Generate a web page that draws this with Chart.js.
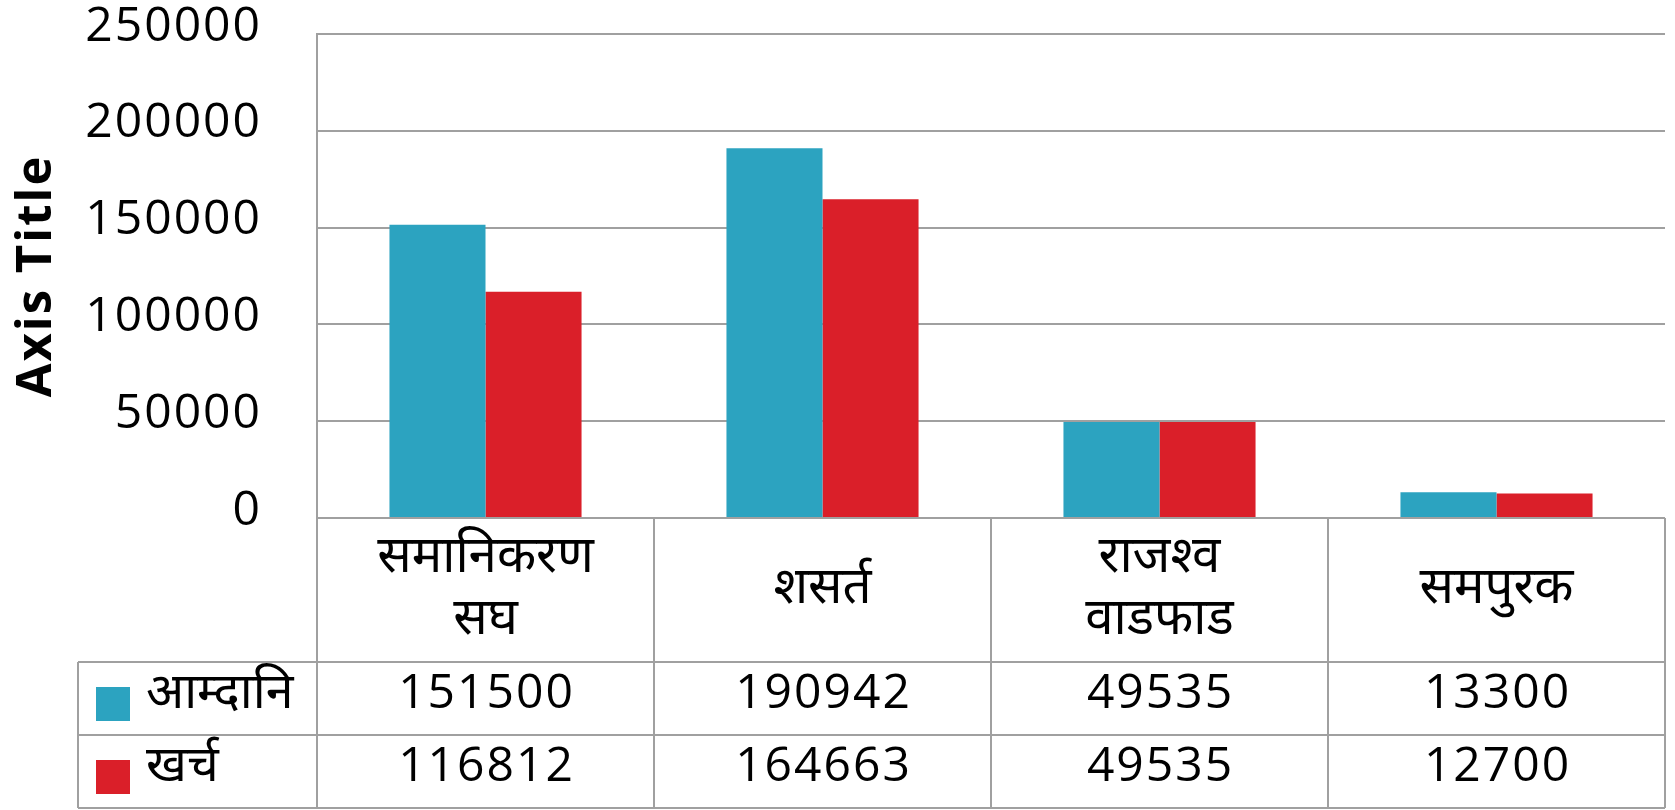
<!DOCTYPE html>
<html>
<head>
<meta charset="utf-8">
<script src="https://cdn.jsdelivr.net/npm/chart.js@4/dist/chart.umd.min.js"></script>
<style>
html,body{margin:0;padding:0;background:#fff;}
#wrap{width:1675px;height:810px;}
</style>
</head>
<body>
<div id="wrap"><canvas id="c" width="1675" height="810"></canvas></div>
<script>
const categories = [['समानिकरण','सघ'], ['शसर्त'], ['राजश्व','वाडफाड'], ['समपुरक']];
const seriesNames = ['आम्दानि', 'खर्च'];
const incomeValues = [151500, 190942, 49535, 13300];
const expenseValues = [116812, 164663, 49535, 12700];
const yMin = 0, yMax = 250000, yStep = 50000;
const axisTitle = 'Axis Title';
const seriesColors = ['#2CA3C0', '#DA1F29'];

const FONT = "'Open Sans', 'Noto Sans', 'Noto Sans Devanagari', 'Lohit Devanagari', sans-serif";
const GRID = '#A0A0A0';

const spacingPlugin = {
  id: 'spacing',
  beforeDraw(chart) { chart.ctx.letterSpacing = '2px'; },
  afterDatasetsDraw(chart) { chart.ctx.letterSpacing = '0px'; }
};

const tablePlugin = {
  id: 'dataTable',
  afterDraw(chart) {
    const ctx = chart.ctx;
    const x = chart.scales.x;
    const area = chart.chartArea;
    const n = categories.length;
    const colW = (area.right - area.left) / n;
    const top = area.bottom;
    const r1 = 662, r2 = 735, r3 = 808;
    const tableLeft = 78;
    ctx.save();
    ctx.strokeStyle = GRID;
    ctx.lineWidth = 2;
    ctx.beginPath();
    ctx.moveTo(area.left, top); ctx.lineTo(area.right, top);
    ctx.moveTo(tableLeft, r1); ctx.lineTo(area.right, r1);
    ctx.moveTo(tableLeft, r2); ctx.lineTo(area.right, r2);
    ctx.moveTo(tableLeft, r3); ctx.lineTo(area.right, r3);
    for (let i = 0; i <= n; i++) {
      const xx = area.left + i * colW;
      ctx.moveTo(xx, top); ctx.lineTo(xx, r3);
    }
    ctx.moveTo(tableLeft, r1); ctx.lineTo(tableLeft, r3);
    ctx.stroke();

    ctx.fillStyle = '#000';
    ctx.textAlign = 'center';
    ctx.textBaseline = 'middle';
    ctx.letterSpacing = '0px';
    ctx.font = '51px ' + FONT;
    categories.forEach((lab, i) => {
      const cx = x.getPixelForValue(i);
      const lh = 62;
      const mid = 588;
      const start = mid - (lab.length - 1) * lh / 2;
      lab.forEach((line, j) => ctx.fillText(line, cx, start + j * lh));
    });
    const rows = [incomeValues, expenseValues];
    const rowMids = [694, 767];
    rows.forEach((vals, r) => {
      ctx.fillStyle = '#000';
      ctx.textAlign = 'center';
      ctx.letterSpacing = '2px';
      ctx.font = '48px ' + FONT;
      vals.forEach((v, i) => {
        ctx.fillText(String(v), x.getPixelForValue(i) + 1, rowMids[r]);
      });
      ctx.letterSpacing = '0px';
      ctx.fillStyle = seriesColors[r];
      ctx.fillRect(96, rowMids[r] - 7, 34, 34);
      ctx.fillStyle = '#000';
      ctx.textAlign = 'left';
      ctx.font = '50px ' + FONT;
      ctx.fillText(seriesNames[r], 146, rowMids[r]);
    });
    ctx.restore();
  }
};

new Chart(document.getElementById('c'), {
  type: 'bar',
  data: {
    labels: categories,
    datasets: [
      { label: seriesNames[0], data: incomeValues, backgroundColor: seriesColors[0] },
      { label: seriesNames[1], data: expenseValues, backgroundColor: seriesColors[1] }
    ]
  },
  options: {
    responsive: false,
    animation: false,
    devicePixelRatio: 1,
    layout: { padding: { top: 34, right: 10, bottom: 292, left: 0 } },
    datasets: { bar: { categoryPercentage: 0.57, barPercentage: 1.0 } },
    plugins: { legend: { display: false }, tooltip: { enabled: false } },
    scales: {
      x: { display: false },
      y: {
        min: yMin, max: yMax,
        afterFit(axis) { axis.width = 317; axis.paddingTop = 0; axis.paddingBottom = 0; },
        ticks: { stepSize: yStep, padding: 55, labelOffset: -7, color: '#000',
                 font: { family: FONT, size: 48 },
                 callback: (v) => String(v) },
        grid: { color: GRID, lineWidth: 2, drawTicks: false },
        border: { color: GRID, width: 2 },
        title: { display: true, text: axisTitle, color: '#000',
                 font: { family: FONT, size: 49, weight: 'bold' }, padding: { top: 8, bottom: 10 } }
      }
    }
  },
  plugins: [spacingPlugin, tablePlugin]
});
</script>
</body>
</html>
